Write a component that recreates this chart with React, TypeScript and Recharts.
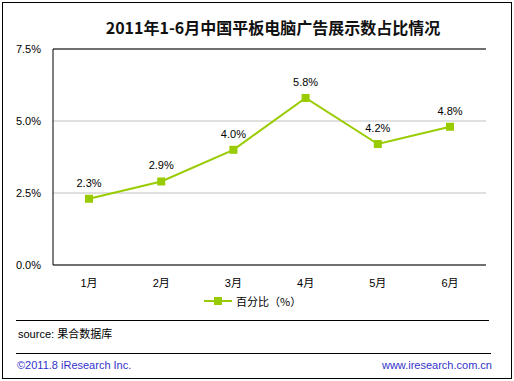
import React from "react";
import {
  LineChart,
  Line,
  XAxis,
  YAxis,
  CartesianGrid,
  ReferenceLine,
  LabelList,
} from "recharts";

const months = ["1月", "2月", "3月", "4月", "5月", "6月"];
const share = [2.3, 2.9, 4.0, 5.8, 4.2, 4.8];
const yTicks = [0, 2.5, 5, 7.5];

const data = months.map((m, i) => ({ month: m, value: share[i] }));

const GREEN = "#99CC00";
const FONT = "'Liberation Sans', 'Noto Sans CJK SC', sans-serif";

const SquareDot = (props: any) => {
  const { cx, cy } = props;
  if (cx == null || cy == null) return null;
  return <rect x={cx - 4} y={cy - 4} width={8} height={8} fill={GREEN} />;
};

const App = () => {
  return (
    <div
      style={{
        position: "absolute",
        left: 0,
        top: 0,
        width: 514,
        height: 381,
        background: "#fff",
        fontFamily: FONT,
      }}
    >
      <div
        style={{
          position: "absolute",
          left: 2,
          top: 2,
          width: 508,
          height: 375,
          border: "1px solid #000",
        }}
      />
      <div
        style={{
          position: "absolute",
          left: 0,
          width: 546,
          top: 15,
          textAlign: "center",
          fontSize: 16,
          fontWeight: "bold",
          fontFamily: "'Noto Sans CJK SC', sans-serif",
          color: "#111",
        }}
      >
        2011年1-6月中国平板电脑广告展示数占比情况
      </div>
      <div style={{ position: "absolute", left: 0, top: 0 }}>
        <LineChart
          width={514}
          height={381}
          data={data}
          margin={{ top: 49, right: 28, left: 8, bottom: 86 }}
        >
          <CartesianGrid horizontal vertical={false} stroke="#c0c0c0" />
          <XAxis
            dataKey="month"
            padding={{ left: 36, right: 36 }}
            axisLine={{ stroke: "#000" }}
            tickLine={false}
            tick={{ fill: "#000", fontSize: 11, fontFamily: FONT }}
            tickMargin={8}
            height={30}
          />
          <YAxis
            domain={[0, 7.5]}
            ticks={yTicks}
            width={45}
            axisLine={{ stroke: "#000" }}
            tickLine={false}
            tickMargin={6}
            tick={{ fill: "#000", fontSize: 11, fontFamily: FONT }}
            tickFormatter={(v: number) => v.toFixed(1) + "%"}
          />
          <YAxis
            yAxisId="r"
            orientation="right"
            width={0}
            axisLine={{ stroke: "#000" }}
            tickLine={false}
            tick={false}
          />
          <ReferenceLine y={7.5} stroke="#000" />
          <Line
            dataKey="value"
            stroke={GREEN}
            strokeWidth={2}
            dot={<SquareDot />}
            activeDot={false}
            isAnimationActive={false}
          >
            <LabelList
              dataKey="value"
              position="top"
              offset={12}
              formatter={(v: any) => Number(v).toFixed(1) + "%"}
              style={{ fill: "#000", fontSize: 11, fontFamily: FONT }}
            />
          </Line>
        </LineChart>
      </div>
      <div
        style={{
          position: "absolute",
          left: 204,
          top: 293,
          display: "flex",
          alignItems: "center",
          fontSize: 11,
        }}
      >
        <svg width={30} height={12}>
          <line x1={0} y1={6} x2={28} y2={6} stroke={GREEN} strokeWidth={2} />
          <rect x={10} y={2} width={8} height={8} fill={GREEN} />
        </svg>
        <span style={{ marginLeft: 2, fontFamily: "'Noto Sans CJK SC', sans-serif" }}>
          百分比（%）
        </span>
      </div>
      <div
        style={{
          position: "absolute",
          left: 16,
          top: 320,
          width: 473,
          height: 1,
          background: "#000",
        }}
      />
      <div
        style={{
          position: "absolute",
          left: 18,
          top: 325,
          fontSize: 11,
          color: "#000",
        }}
      >
        source: <span style={{ fontFamily: "'Noto Sans CJK SC', sans-serif" }}>果合数据库</span>
      </div>
      <div
        style={{
          position: "absolute",
          left: 16,
          top: 353,
          width: 475,
          height: 1,
          background: "#000",
        }}
      />
      <div
        style={{
          position: "absolute",
          left: 17,
          top: 359,
          fontSize: 11,
          color: "#3333cc",
        }}
      >
        ©2011.8 iResearch Inc.
      </div>
      <div
        style={{
          position: "absolute",
          right: 22,
          top: 359,
          fontSize: 11,
          color: "#3333cc",
        }}
      >
        www.iresearch.com.cn
      </div>
    </div>
  );
};

export default App;
